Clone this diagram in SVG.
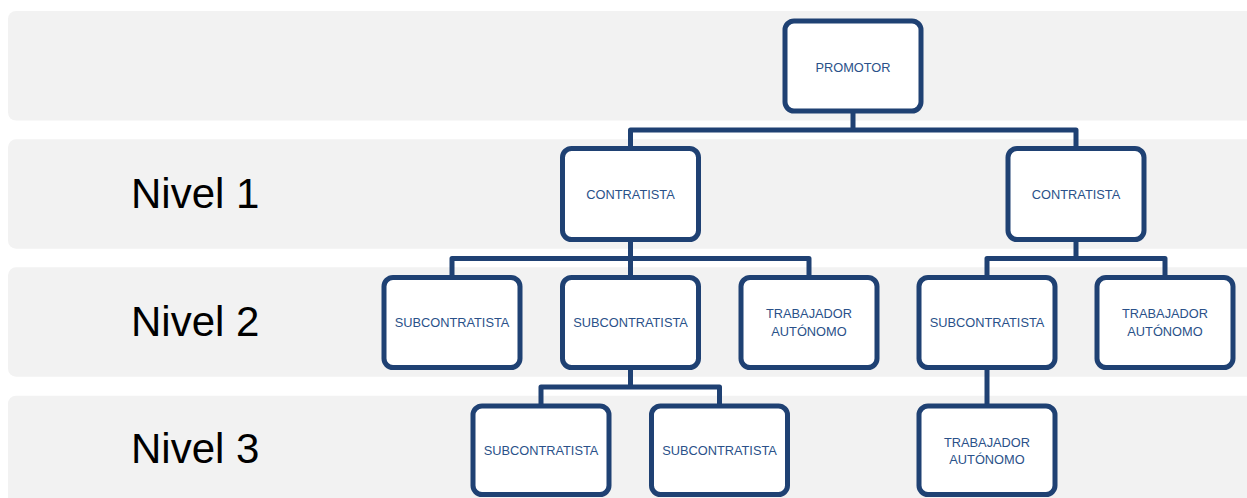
<svg xmlns="http://www.w3.org/2000/svg" width="1247" height="498" viewBox="0 0 1247 498">
  <style>
    .band { fill: #f2f2f2; }
    .lvl { font-family: "Liberation Sans", Arial, sans-serif; font-size: 42px; fill: #000000; }
    .box { fill: #ffffff; stroke: #1f4173; stroke-width: 5; }
    .lbl { font-family: "Liberation Sans", Arial, sans-serif; font-size: 12.8px; fill: #2a5189; text-anchor: middle; }
    .conn { fill: none; stroke: #1f4173; stroke-width: 5; stroke-linejoin: round; stroke-linecap: butt; }
  </style>
  <rect width="1247" height="498" fill="#ffffff"/>
  <g id="bands">
    <rect class="band" x="8" y="11" width="1260" height="109.5" rx="8"/>
    <rect class="band" x="8" y="139.3" width="1260" height="109.4" rx="8"/>
    <rect class="band" x="8" y="267.3" width="1260" height="109.4" rx="8"/>
    <rect class="band" x="8" y="395.7" width="1260" height="120" rx="8"/>
    <text class="lvl" x="131" y="208.3">Nivel 1</text>
    <text class="lvl" x="131" y="336">Nivel 2</text>
    <text class="lvl" x="131" y="462.7">Nivel 3</text>
  </g>
  <g id="connectors">
    <path class="conn" d="M853 111 V130 M630.5 148.5 V130 H1076 V148.5"/>
    <path class="conn" d="M630.5 239.5 V258.5 M452 277.5 V258.5 H809 V277.5 M630.5 258.5 V277.5"/>
    <path class="conn" d="M1076 239.5 V258.5 M987 277.5 V258.5 H1165 V277.5"/>
    <path class="conn" d="M630.5 367.5 V387 M541 406 V387 H719.5 V406"/>
    <path class="conn" d="M987 367.5 V406"/>
  </g>
  <g id="promotor">
    <rect class="box" x="785" y="21" width="136" height="90" rx="9"/>
    <text class="lbl" x="853" y="71.5">PROMOTOR</text>
  </g>
  <g id="contratista1">
    <rect class="box" x="562.5" y="148.5" width="136" height="91" rx="9"/>
    <text class="lbl" x="630.5" y="199">CONTRATISTA</text>
  </g>
  <g id="contratista2">
    <rect class="box" x="1008" y="148.5" width="136" height="91" rx="9"/>
    <text class="lbl" x="1076" y="199">CONTRATISTA</text>
  </g>
  <g id="subcontratista-a">
    <rect class="box" x="384" y="277.5" width="136" height="90" rx="9"/>
    <text class="lbl" x="452" y="327">SUBCONTRATISTA</text>
  </g>
  <g id="subcontratista-b">
    <rect class="box" x="562.5" y="277.5" width="136" height="90" rx="9"/>
    <text class="lbl" x="630.5" y="327">SUBCONTRATISTA</text>
  </g>
  <g id="autonomo-c">
    <rect class="box" x="741" y="277.5" width="136" height="90" rx="9"/>
    <text class="lbl" x="809" y="318.3">TRABAJADOR</text>
    <text class="lbl" x="809" y="336">AUTÓNOMO</text>
  </g>
  <g id="subcontratista-f">
    <rect class="box" x="919" y="277.5" width="136" height="90" rx="9"/>
    <text class="lbl" x="987" y="327">SUBCONTRATISTA</text>
  </g>
  <g id="autonomo-g">
    <rect class="box" x="1097" y="277.5" width="136" height="90" rx="9"/>
    <text class="lbl" x="1165" y="318.3">TRABAJADOR</text>
    <text class="lbl" x="1165" y="336">AUTÓNOMO</text>
  </g>
  <g id="subcontratista-d">
    <rect class="box" x="473" y="406" width="136" height="88.5" rx="9"/>
    <text class="lbl" x="541" y="455">SUBCONTRATISTA</text>
  </g>
  <g id="subcontratista-e">
    <rect class="box" x="651.5" y="406" width="136" height="88.5" rx="9"/>
    <text class="lbl" x="719.5" y="455">SUBCONTRATISTA</text>
  </g>
  <g id="autonomo-h">
    <rect class="box" x="919" y="406" width="136" height="88.5" rx="9"/>
    <text class="lbl" x="987" y="446.7">TRABAJADOR</text>
    <text class="lbl" x="987" y="464.3">AUTÓNOMO</text>
  </g>
</svg>
